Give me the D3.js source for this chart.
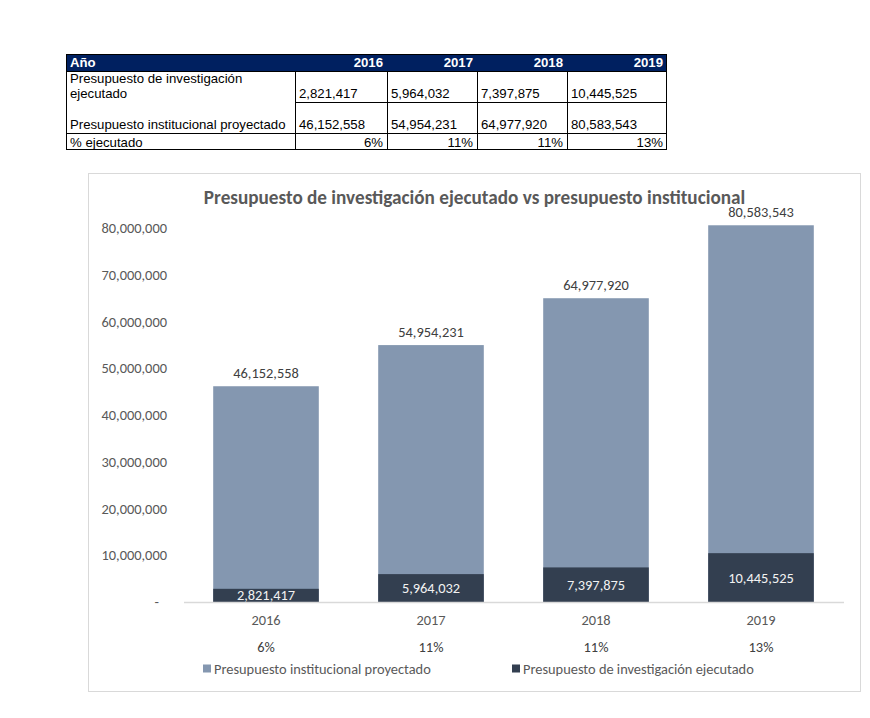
<!DOCTYPE html>
<html><head><meta charset="utf-8">
<script src="https://cdn.jsdelivr.net/npm/d3@7"></script>
<style>
html,body{margin:0;padding:0;background:#fff;}
svg{display:block;}
</style></head>
<body>
<svg id="c" width="870" height="718"></svg>
<script>
const years = ["2016","2017","2018","2019"];
const ejecutado = [2821417, 5964032, 7397875, 10445525];
const institucional = [46152558, 54954231, 64977920, 80583543];
const pctLabels = ["6%","11%","11%","13%"];
const yTicks = [0,10000000,20000000,30000000,40000000,50000000,60000000,70000000,80000000];
const title = "Presupuesto de investigación ejecutado vs presupuesto institucional";
const seriesNames = ["Presupuesto institucional proyectado","Presupuesto de investigación ejecutado"];
const rowLabels = ["Presupuesto de investigación ejecutado","Presupuesto institucional proyectado","% ejecutado"];

const fmt = d3.format(",");
const svg = d3.select("#c");
const chartFont = "Carlito, Lato, sans-serif";
const tblFont = "'Liberation Sans', Arial, sans-serif";
const fs = "14.4px";

// ---------- TABLE ----------
const colEdges = [66, 295, 387, 477, 567, 667];
const rowEdges = [54, 71, 102, 133, 150];
const tg = svg.append("g");
tg.append("rect").attr("x",colEdges[0]).attr("y",rowEdges[0]).attr("width",colEdges[5]-colEdges[0]).attr("height",rowEdges[1]-rowEdges[0]).attr("fill","#002060");
const lineC = "#000";
tg.append("rect").attr("x",colEdges[0]+0.5).attr("y",rowEdges[0]+0.5).attr("width",colEdges[5]-colEdges[0]-1).attr("height",rowEdges[4]-rowEdges[0]-1).attr("fill","none").attr("stroke",lineC).attr("stroke-width",1);
colEdges.slice(1,5).forEach(x=>{
  tg.append("line").attr("x1",x+0.5).attr("x2",x+0.5).attr("y1",rowEdges[1]).attr("y2",rowEdges[4]).attr("stroke",lineC);
});
tg.append("line").attr("x1",colEdges[1]).attr("x2",colEdges[5]).attr("y1",rowEdges[2]+0.5).attr("y2",rowEdges[2]+0.5).attr("stroke",lineC);
tg.append("line").attr("x1",colEdges[0]).attr("x2",colEdges[5]).attr("y1",rowEdges[3]+0.5).attr("y2",rowEdges[3]+0.5).attr("stroke",lineC);
tg.append("line").attr("x1",colEdges[0]).attr("x2",colEdges[5]).attr("y1",rowEdges[1]+0.5).attr("y2",rowEdges[1]+0.5).attr("stroke",lineC);

const tt = tg.append("g").attr("font-family",tblFont).attr("font-size","13.2px").attr("fill","#000");
tt.append("text").attr("x",colEdges[0]+4).attr("y",67).attr("fill","#fff").attr("font-weight","bold").text("Año");
tt.selectAll(".yh").data(years).join("text").attr("x",(d,i)=>colEdges[i+2]-4).attr("y",67)
  .attr("text-anchor","end").attr("fill","#fff").attr("font-weight","bold").text(d=>d);
tt.append("text").attr("x",colEdges[0]+4).attr("y",83).text("Presupuesto de investigación");
tt.append("text").attr("x",colEdges[0]+4).attr("y",98).text("ejecutado");
tt.append("text").attr("x",colEdges[0]+4).attr("y",129).text(rowLabels[1]);
tt.append("text").attr("x",colEdges[0]+4).attr("y",147).text(rowLabels[2]);
tt.selectAll(".r1").data(ejecutado).join("text").attr("x",(d,i)=>colEdges[i+1]+4).attr("y",98).text(d=>fmt(d));
tt.selectAll(".r2").data(institucional).join("text").attr("x",(d,i)=>colEdges[i+1]+4).attr("y",129).text(d=>fmt(d));
tt.selectAll(".r3").data(pctLabels).join("text").attr("x",(d,i)=>colEdges[i+2]-4).attr("y",147).attr("text-anchor","end").text(d=>d);

// ---------- CHART ----------
svg.append("rect").attr("x",88.5).attr("y",173.5).attr("width",772).attr("height",518).attr("fill","#fff").attr("stroke","#d9d9d9").attr("stroke-width",1);

const x = d3.scaleBand().domain(years).range([183.5, 843.5]).paddingInner(0.36).paddingOuter(0.18);
const y = d3.scaleLinear().domain([0, 80000000]).range([602, 228]);

const g = svg.append("g").attr("font-family",chartFont);

g.append("text").attr("x",474.5).attr("y",204).attr("text-anchor","middle")
  .attr("font-size","19.2px").attr("font-weight","bold").attr("fill","#595959").text(title);

const yAxis = d3.axisLeft(y).tickValues(yTicks).tickSize(0).tickPadding(0)
  .tickFormat(d=> d===0 ? "-" : fmt(d));
const ya = g.append("g").attr("transform","translate(167,0)").call(yAxis);
ya.select(".domain").remove();
ya.selectAll("text").attr("font-family",chartFont).attr("font-size",fs).attr("fill","#595959")
  .attr("dx",d=> d===0 ? "-8" : "0");

g.selectAll(".bi").data(institucional).join("rect").attr("class","bi")
  .attr("x",(d,i)=>x(years[i])).attr("width",x.bandwidth())
  .attr("y",d=>y(d)).attr("height",d=>y(0)-y(d)).attr("fill","#8497b0");
g.selectAll(".be").data(ejecutado).join("rect").attr("class","be")
  .attr("x",(d,i)=>x(years[i])).attr("width",x.bandwidth())
  .attr("y",d=>y(d)).attr("height",d=>y(0)-y(d)).attr("fill","#333f50");

const xa = g.append("g").attr("transform",`translate(0,${y(0)})`)
  .call(d3.axisBottom(x).tickSize(0).tickPadding(13));
xa.select(".domain").attr("stroke","#d9d9d9").attr("stroke-width",1.3);
xa.selectAll("text").attr("font-family",chartFont).attr("font-size",fs).attr("fill","#595959");

g.selectAll(".pl").data(pctLabels).join("text")
  .attr("x",(d,i)=>x(years[i])+x.bandwidth()/2).attr("y",652)
  .attr("text-anchor","middle").attr("font-size",fs).attr("fill","#404040").text(d=>d);

g.selectAll(".li").data(institucional).join("text")
  .attr("x",(d,i)=>x(years[i])+x.bandwidth()/2).attr("y",d=>y(d)-8)
  .attr("text-anchor","middle").attr("font-size",fs).attr("fill","#404040").text(d=>fmt(d));
g.selectAll(".le").data(ejecutado).join("text")
  .attr("x",(d,i)=>x(years[i])+x.bandwidth()/2).attr("y",d=>(y(d)+y(0))/2)
  .attr("dy","0.35em").attr("text-anchor","middle").attr("font-size",fs).attr("fill","#f2f2f2").text(d=>fmt(d));

const legendX = [203, 512];
const legendColors = ["#8497b0","#333f50"];
const lg = g.selectAll(".lg").data(seriesNames).join("g").attr("transform",(d,i)=>`translate(${legendX[i]},669)`);
lg.append("rect").attr("x",0).attr("y",-4.5).attr("width",8).attr("height",8).attr("fill",(d,i)=>legendColors[i]);
lg.append("text").attr("x",11).attr("y",0).attr("dy","0.35em").attr("font-size",fs).attr("fill","#595959").text(d=>d);
</script>
</body></html>
